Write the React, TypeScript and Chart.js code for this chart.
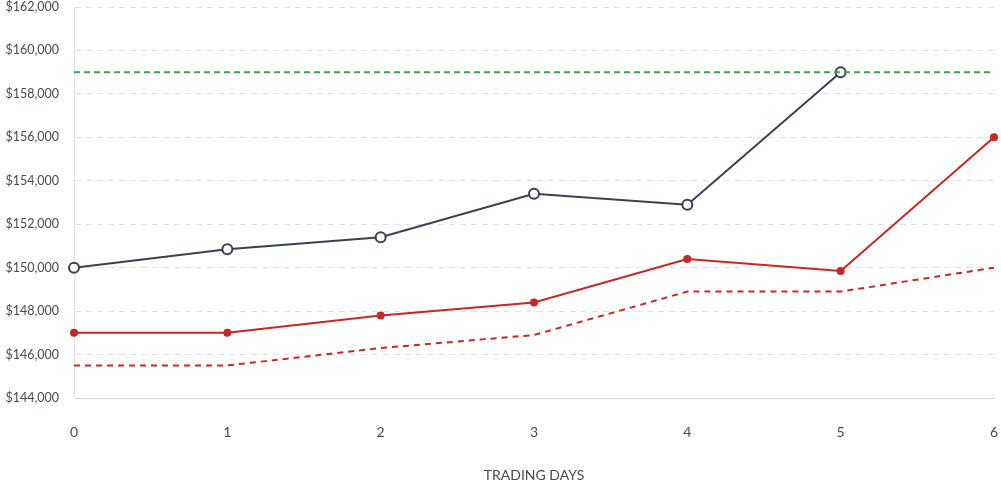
import React, { useEffect, useRef } from "react";
import { Chart, registerables } from "chart.js";

Chart.register(...registerables);

const days = ["0", "1", "2", "3", "4", "5", "6"];
const portfolio = [150000, 150850, 151400, 153400, 152900, 159000, null];
const benchmark = [147000, 147000, 147800, 148400, 150400, 149850, 156000];
const floorLine = [145500, 145500, 146300, 146900, 148900, 148900, 150000];
const target = [159000, 159000, 159000, 159000, 159000, 159000, 159000];

export default function App() {
  const ref = useRef<HTMLCanvasElement>(null);
  useEffect(() => {
    document.body.style.margin = "0";
    const ctx = ref.current!;
    const chart = new Chart(ctx, {
      type: "line",
      data: {
        labels: days,
        datasets: [
          {
            data: target,
            borderColor: "#46a04f",
            borderWidth: 2,
            borderDash: [6, 4],
            pointRadius: 0,
            fill: false,
          },
          {
            data: portfolio,
            borderColor: "#374151",
            borderWidth: 2,
            pointRadius: 5,
            pointBorderWidth: 2,
            pointBackgroundColor: "#ffffff",
            pointBorderColor: "#374151",
            fill: false,
          },
          {
            data: benchmark,
            borderColor: "#c62828",
            borderWidth: 2,
            pointRadius: 4,
            pointBackgroundColor: "#c62828",
            pointBorderColor: "#c62828",
            pointBorderWidth: 0,
            fill: false,
          },
          {
            data: floorLine,
            borderColor: "#c62828",
            borderWidth: 2,
            borderDash: [6, 5],
            pointRadius: 0,
            fill: false,
          },
        ],
      },
      options: {
        animation: false,
        responsive: false,
        layout: { padding: { left: 0, right: 7, top: 6, bottom: 14 } },
        plugins: { legend: { display: false }, tooltip: { enabled: false } },
        scales: {
          x: {
            grid: { display: false, drawTicks: false },
            border: { display: true, color: "#d9d9d9" },
            ticks: { color: "#444b55", font: { family: "Lato", size: 14 }, padding: 26 },
            title: {
              display: true,
              text: "TRADING DAYS",
              color: "#444b55",
              font: { family: "Lato", size: 14 },
              padding: { top: 22, bottom: 2 },
            },
            afterFit: (s: any) => {
              s.height = 88;
              s.paddingLeft = 0;
              s.paddingRight = 0;
            },
          },
          y: {
            min: 144000,
            max: 162000,
            ticks: {
              stepSize: 2000,
              color: "#444b55",
              font: { family: "Lato", size: 12.5 },
              padding: 15,
              callback: (v: any) => "$" + Number(v).toLocaleString("en-US"),
            },
            grid: { color: "#e3e3e3", drawTicks: false },
            border: { display: true, color: "#e0e0e0", dash: [6, 5] },
            afterFit: (s: any) => {
              s.width = 74;
              s.paddingTop = 0;
              s.paddingBottom = 0;
            },
          },
        },
      },
    });
    return () => chart.destroy();
  }, []);
  return <canvas ref={ref} width={1001} height={500} style={{ display: "block" }} />;
}
